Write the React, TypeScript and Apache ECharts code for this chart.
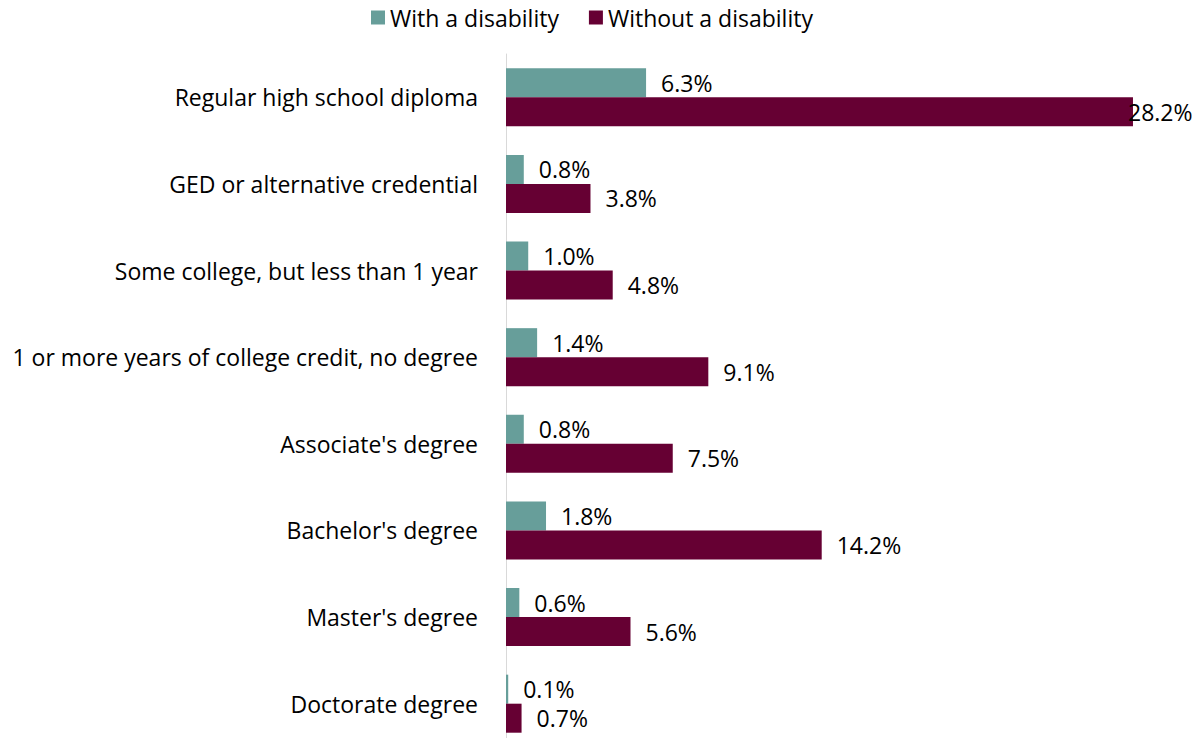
import React, { useEffect, useRef } from "react";
import * as echarts from "echarts";

const categories = [
  "Regular high school diploma",
  "GED or alternative credential",
  "Some college, but less than 1 year",
  "1 or more years of college credit, no degree",
  "Associate's degree",
  "Bachelor's degree",
  "Master's degree",
  "Doctorate degree",
];
const withDisability = [6.3, 0.8, 1.0, 1.4, 0.8, 1.8, 0.6, 0.1];
const withoutDisability = [28.2, 3.8, 4.8, 9.1, 7.5, 14.2, 5.6, 0.7];
const seriesNames = ["With a disability", "Without a disability"];

const FONT = "Open Sans";
const FS = 23;

export default function App() {
  const ref = useRef<HTMLDivElement>(null);
  useEffect(() => {
    if (!ref.current) return;
    const chart = echarts.init(ref.current, null, { renderer: "svg" });
    const labelBase = {
      show: true,
      position: "right",
      distance: 15,
      color: "#000",
      fontSize: FS,
      fontFamily: FONT,
      formatter: (p: any) => Number(p.value).toFixed(1) + "%",
    };
    chart.setOption({
      animation: false,
      textStyle: { fontFamily: FONT },
      legend: {
        top: 1,
        left: 366,
        itemWidth: 14,
        itemHeight: 14,
        itemGap: 30,
        icon: "rect",
        textStyle: { fontSize: FS, fontFamily: FONT, color: "#000" },
        data: seriesNames,
      },
      grid: { left: 506, right: 26, top: 54, bottom: 13, containLabel: false },
      xAxis: {
        type: "value",
        min: 0,
        max: 30,
        show: false,
      },
      yAxis: {
        type: "category",
        inverse: true,
        data: categories,
        axisLine: { show: true, lineStyle: { color: "#D9D9D9", width: 1 } },
        axisTick: { show: false },
        axisLabel: { fontSize: FS, fontFamily: FONT, color: "#000", margin: 28 },
      },
      series: [
        {
          name: seriesNames[0],
          type: "bar",
          data: withDisability,
          itemStyle: { color: "#679E9A" },
          barGap: "0%",
          barCategoryGap: "33%",
          label: labelBase,
        },
        {
          name: seriesNames[1],
          type: "bar",
          data: withoutDisability.map((v) => {
            const max = Math.max(...withoutDisability);
            return v === max ? { value: v, label: { distance: -5 } } : v;
          }),
          itemStyle: { color: "#660033" },
          barGap: "0%",
          barCategoryGap: "33%",
          label: labelBase,
        },
      ],
    });
    return () => chart.dispose();
  }, []);
  return (
    <div style={{ position: "fixed", left: 0, top: 0, width: 1199, height: 738, overflow: "hidden", background: "#fff" }}>
      <div ref={ref} style={{ width: 1199, height: 760 }} />
    </div>
  );
}
